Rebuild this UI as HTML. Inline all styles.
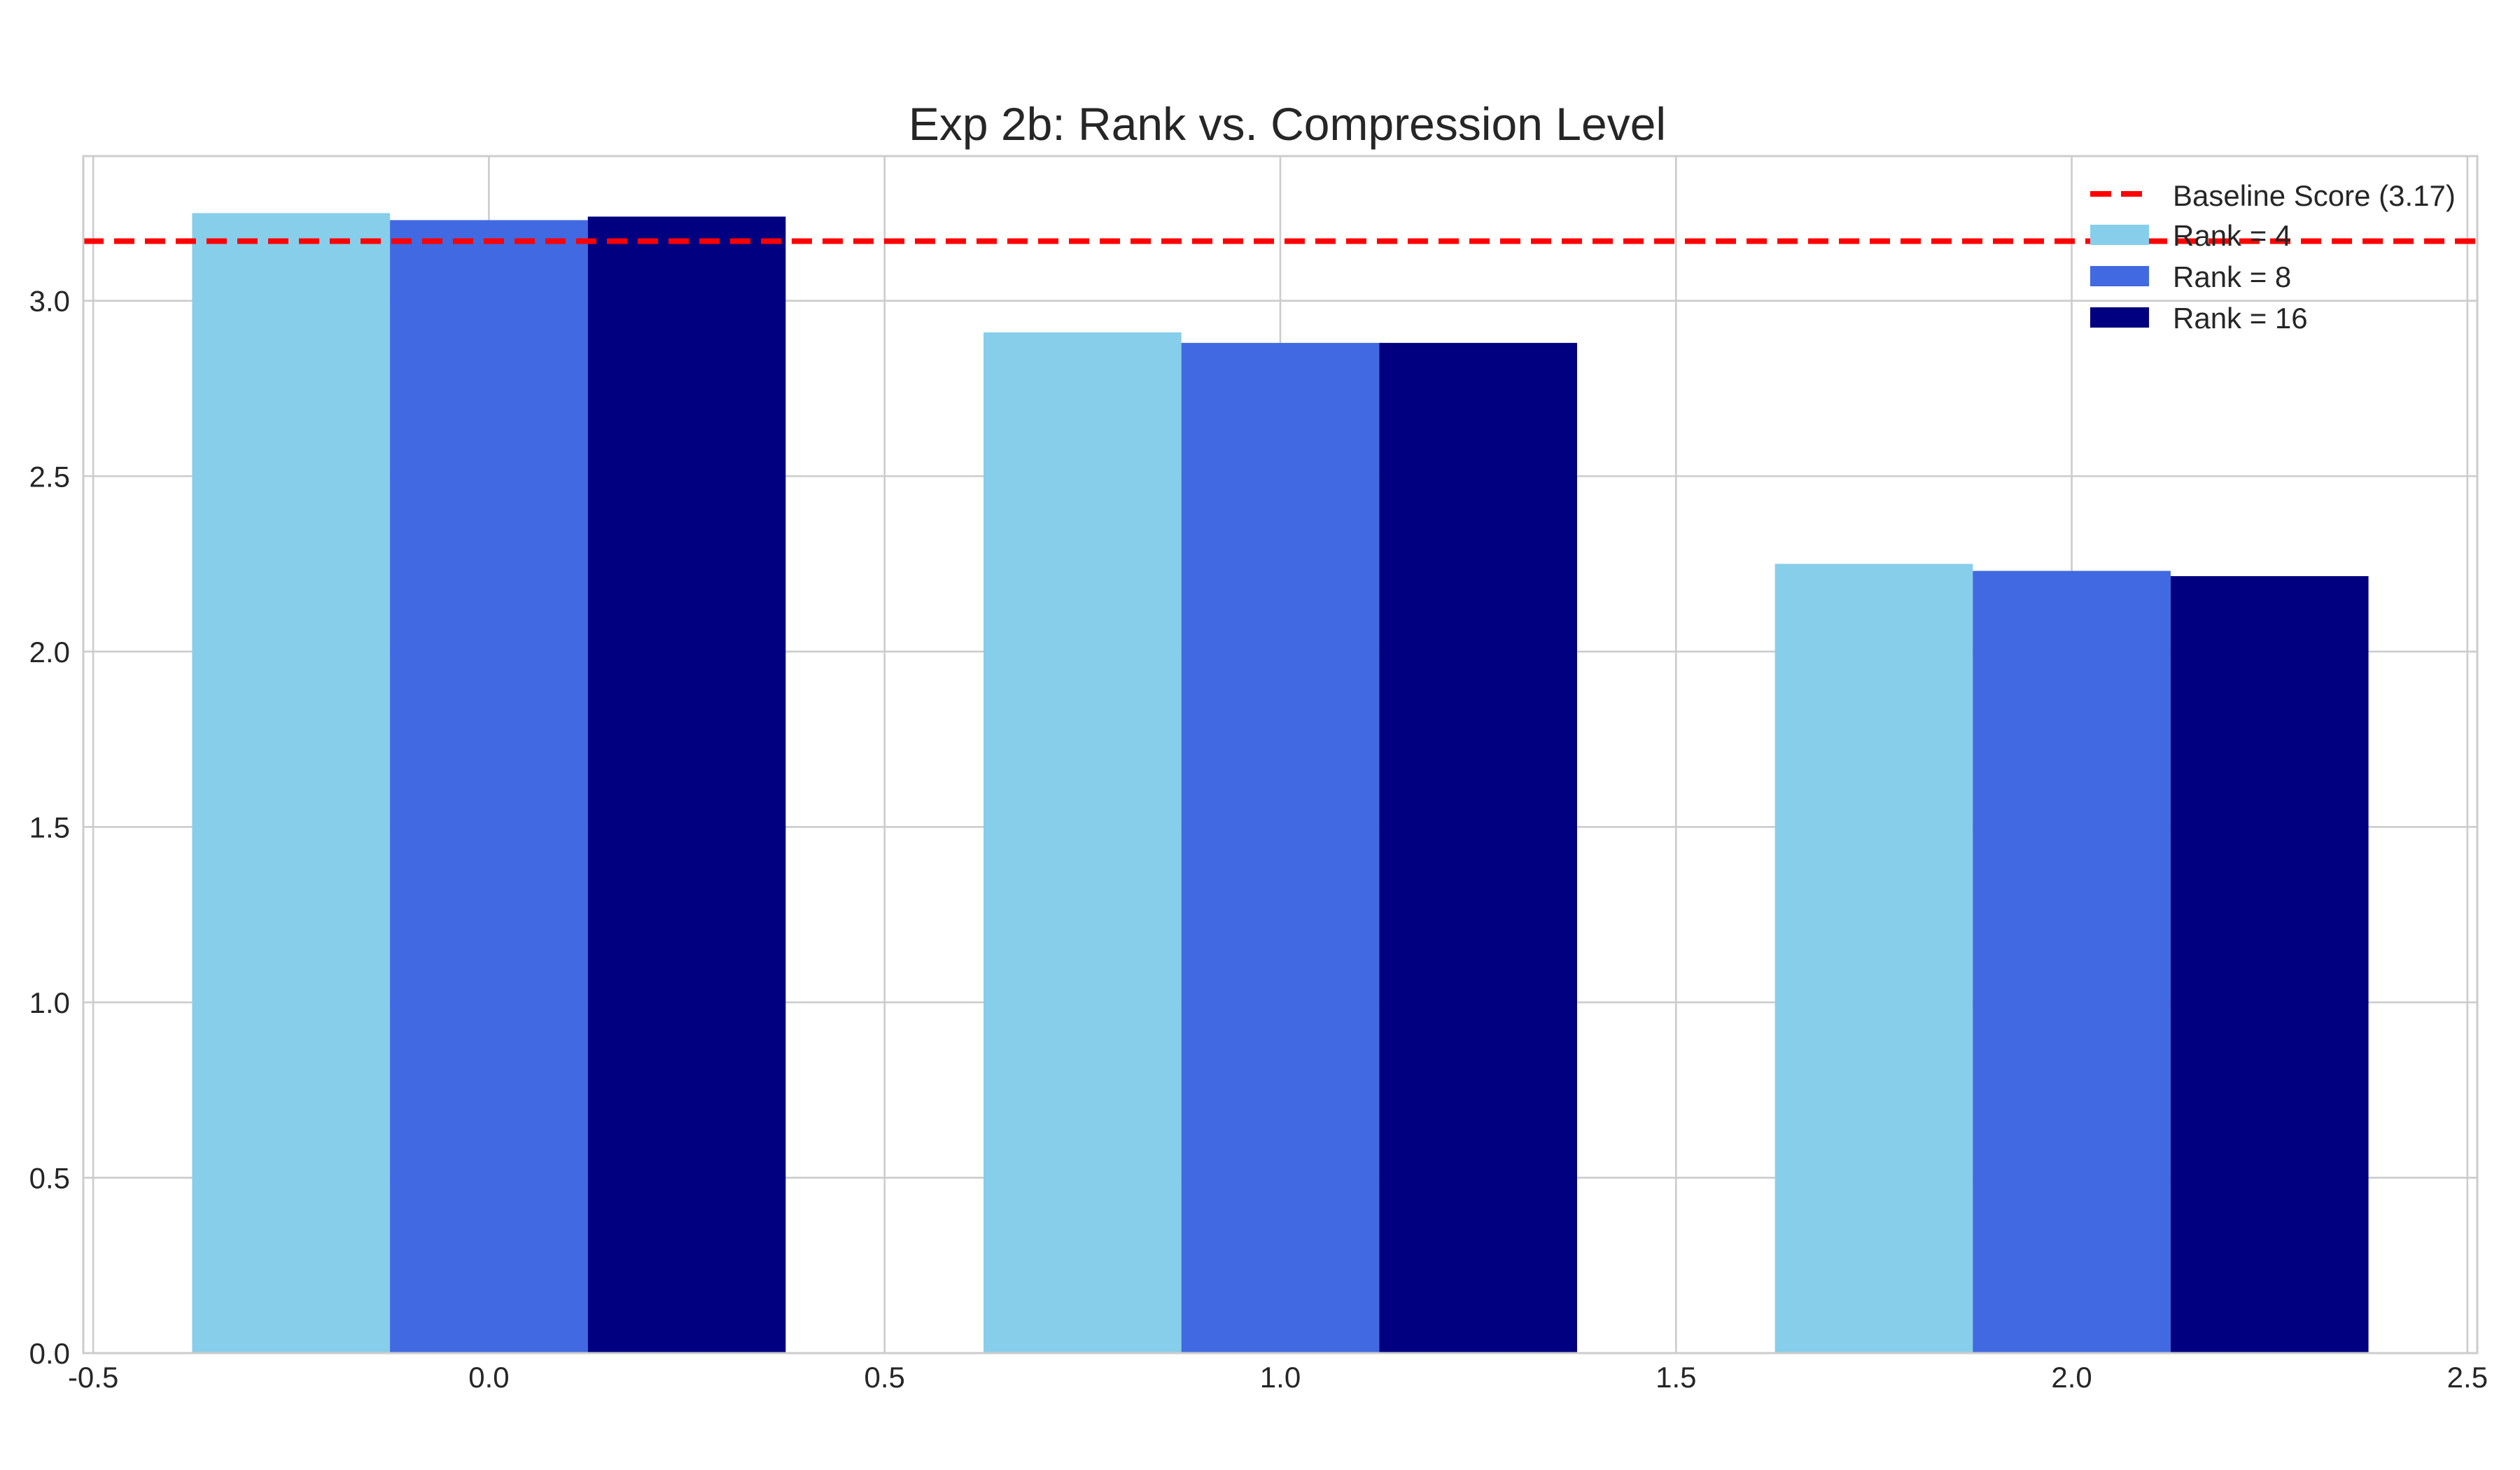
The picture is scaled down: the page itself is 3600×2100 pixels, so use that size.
<!DOCTYPE html>
<html><head><meta charset="utf-8"><style>
html,body{margin:0;padding:0;background:#fff;}
svg{display:block;font-family:"Liberation Sans",Arial,sans-serif;}
</style></head>
<body>
<svg id="chart" width="3600" height="2100" viewBox="0 0 3600 2100" xmlns="http://www.w3.org/2000/svg">
<rect width="3600" height="2100" fill="#fff"/>
<text x="1839" y="200" font-size="66" fill="#262626" text-anchor="middle">Exp 2b: Rank vs. Compression Level</text>
<g id="grid"></g>
<g id="bars"></g>
<g id="ref"></g>
<g id="axes"></g>
<g id="legend"></g>
</svg>
<script>
const categories = [0, 1, 2];
const seriesNames = ["Rank = 4", "Rank = 8", "Rank = 16"];
const rank4 = [3.25, 2.91, 2.25];
const rank8 = [3.23, 2.88, 2.23];
const rank16 = [3.24, 2.88, 2.215];
const baselineValue = 3.17;
const baselineLabel = "Baseline Score (3.17)";
const xTicks = [-0.5, 0.0, 0.5, 1.0, 1.5, 2.0, 2.5];
const xTickLabels = ["-0.5", "0.0", "0.5", "1.0", "1.5", "2.0", "2.5"];
const yTicks = [0, 0.5, 1.0, 1.5, 2.0, 2.5, 3.0];
const yTickLabels = ["0.0", "0.5", "1.0", "1.5", "2.0", "2.5", "3.0"];

const NS = "http://www.w3.org/2000/svg";
const L = 119, R = 3539, T = 223, B = 1933;
const xMin = -0.5125, xMax = 2.5125, yMin = 0, yMax = 3.4125;
const colors = ["#87ceeb", "#4169e1", "#000080"];
const barW = 0.25;
function xs(v){ return L + (v - xMin) / (xMax - xMin) * (R - L); }
function ys(v){ return B - (v - yMin) / (yMax - yMin) * (B - T); }
function mk(tag, attrs, parent){ const e = document.createElementNS(NS, tag); for (const k in attrs) e.setAttribute(k, attrs[k]); parent.appendChild(e); return e; }

const grid = document.getElementById('grid');
xTicks.forEach((t, i) => {
  const g = mk('line', {x1: xs(t), x2: xs(t), y1: T, y2: B, stroke: '#cccccc', 'stroke-width': 2.6}, grid);
  
  
});
yTicks.forEach((t, i) => {
  const g = mk('line', {x1: L, x2: R, y1: ys(t), y2: ys(t), stroke: '#cccccc', 'stroke-width': 2.6}, grid);
  
  
});

const bars = document.getElementById('bars');
const series = [rank4, rank8, rank16];
series.forEach((vals, s) => {
  vals.forEach((v, i) => {
    const c = categories[i] + (s - 1) * barW;
    const x0 = xs(c - barW / 2), x1 = xs(c + barW / 2);
    const r = mk('rect', {x: x0, y: ys(v), width: x1 - x0, height: ys(0) - ys(v), fill: colors[s]}, bars);
    
    
  });
});

const ref = document.getElementById('ref');
const bl = mk('line', {x1: L, x2: R, y1: ys(baselineValue), y2: ys(baselineValue), stroke: '#ff0000', 'stroke-width': 8, 'stroke-dasharray': '29 15'}, ref);



const axes = document.getElementById('axes');
const frame = mk('rect', {x: L, y: T, width: R - L, height: B - T, fill: 'none', stroke: '#cccccc', 'stroke-width': 3}, axes);


xTicks.forEach((t, i) => {
  const tx = mk('text', {x: xs(t), y: 1982, 'font-size': 42, fill: '#262626', 'text-anchor': 'middle'}, axes);
  tx.textContent = xTickLabels[i];
  
  
});
yTicks.forEach((t, i) => {
  const tx = mk('text', {x: 100, y: ys(t) + 15, 'font-size': 42, fill: '#262626', 'text-anchor': 'end'}, axes);
  tx.textContent = yTickLabels[i];
  
  
});

const lg = document.getElementById('legend');
const lh = mk('line', {x1: 2986, x2: 3062, y1: 277, y2: 277, stroke: '#ff0000', 'stroke-width': 8, 'stroke-dasharray': '30 14'}, lg);


const lt = mk('text', {x: 3104, y: 294, 'font-size': 42, fill: '#262626'}, lg);
lt.textContent = baselineLabel;


seriesNames.forEach((n, s) => {
  const y = 321 + s * 59;
  const p = mk('rect', {x: 2986, y: y, width: 84, height: 29, fill: colors[s]}, lg);
  
  
  const t = mk('text', {x: 3104, y: y + 30, 'font-size': 42, fill: '#262626'}, lg);
  t.textContent = n;
  
  
});
</script>
</body></html>
